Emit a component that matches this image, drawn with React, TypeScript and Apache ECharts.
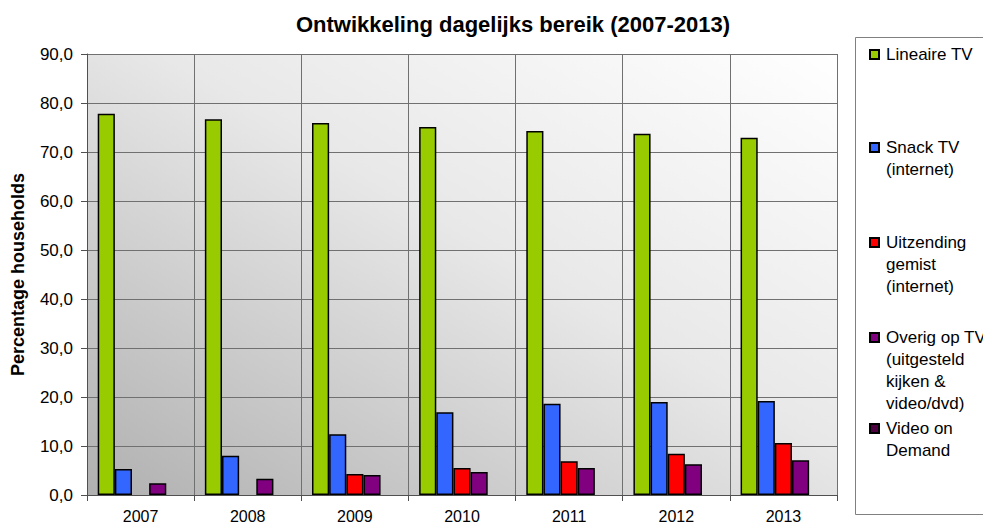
import React, { useEffect, useRef } from "react";
import * as echarts from "echarts";

const years = ["2007", "2008", "2009", "2010", "2011", "2012", "2013"];
const lineaireTV = [77.8, 76.7, 75.9, 75.1, 74.3, 73.7, 72.9];
const snackTV = [5.3, 8.0, 12.4, 16.9, 18.6, 19.0, 19.2];
const uitzendingGemist = [null, null, 4.3, 5.5, 6.9, 8.4, 10.6];
const overigOpTV = [2.4, 3.3, 4.1, 4.7, 5.5, 6.3, 7.1];
const videoOnDemand = [null, null, null, null, null, null, null];

const seriesNames = [
  "Lineaire TV",
  "Snack TV",
  "Uitzending",
  "Overig op TV",
  "Video on",
];
const extraLines = [
  [],
  ["(internet)"],
  ["gemist", "(internet)"],
  ["(uitgesteld", "kijken &", "video/dvd)"],
  ["Demand"],
];
const colors = ["#99cc00", "#3366ff", "#ff0000", "#800080", "#4d0040"];

export default function App() {
  const ref = useRef<HTMLDivElement>(null);
  useEffect(() => {
    if (!ref.current) return;
    document.body.style.margin = "0";
    const chart = echarts.init(ref.current, null, { renderer: "svg" });
    const font = "'Liberation Sans', Arial, sans-serif";
    const dataSets = [lineaireTV, snackTV, uitzendingGemist, overigOpTV, videoOnDemand];
    const legendCenters = [54, 147, 242, 337, 428];
    const lineH = 22;

    const graphics: any[] = [
      {
        type: "rect",
        shape: { x: 855.5, y: 37.5, width: 140, height: 477 },
        style: { fill: "#fff", stroke: "#808080", lineWidth: 1 },
        z: -1,
      },
    ];
    extraLines.forEach((lines, i) => {
      lines.forEach((t, j) => {
        graphics.push({
          type: "text",
          x: 886,
          y: legendCenters[i] + (j + 1) * lineH,
          style: {
            text: t,
            font: `17px ${font}`,
            fill: "#000",
            verticalAlign: "middle",
            align: "left",
          },
        });
      });
    });

    const option: any = {
      animation: false,
      backgroundColor: "#fff",
      textStyle: { fontFamily: font },
      title: {
        text: "Ontwikkeling dagelijks bereik (2007-2013)",
        left: 508,
        textAlign: "center",
        top: 8,
        textStyle: { fontSize: 22, fontWeight: "bold", color: "#000", fontFamily: font },
      },
      legend: seriesNames.map((n, i) => ({
        data: [n],
        orient: "vertical",
        left: 869,
        top: legendCenters[i] - 8,
        padding: 0,
        icon: "rect",
        itemWidth: 9,
        itemHeight: 9,
        itemGap: 0,
        textStyle: { fontSize: 17, color: "#000", fontFamily: font, padding: [0, 0, 0, 2] },
      })),
      graphic: graphics,
      grid: {
        left: 87,
        right: 146,
        top: 54,
        bottom: 33,
        show: true,
        borderWidth: 0,
        backgroundColor: {
          type: "linear",
          x: 0,
          y: 1,
          x2: 1,
          y2: 0,
          colorStops: [
            { offset: 0, color: "#b0b0b0" },
            { offset: 0.55, color: "#e8e8e8" },
            { offset: 1, color: "#ffffff" },
          ],
        },
      },
      xAxis: {
        type: "category",
        data: years,
        boundaryGap: true,
        axisLine: { show: true, lineStyle: { color: "#505050", width: 1 } },
        axisTick: { show: true, length: 6, lineStyle: { color: "#505050" } },
        splitLine: { show: true, lineStyle: { color: "#707070", width: 1 } },
        axisLabel: { color: "#000", fontSize: 16, margin: 13, fontFamily: font },
      },
      yAxis: {
        type: "value",
        min: 0,
        max: 90,
        interval: 10,
        name: "Percentage households",
        nameLocation: "middle",
        nameGap: 60,
        nameTextStyle: { fontSize: 18, fontWeight: "bold", color: "#000", fontFamily: font },
        axisLine: { show: true, lineStyle: { color: "#505050", width: 1 } },
        axisTick: { show: true, length: 6, lineStyle: { color: "#505050" } },
        splitLine: { show: true, lineStyle: { color: "#707070", width: 1 } },
        axisLabel: {
          color: "#000",
          fontSize: 17,
          margin: 14,
          fontFamily: font,
          formatter: (v: number) => v.toFixed(1).replace(".", ","),
        },
      },
      series: seriesNames.map((n, i) => ({
        name: n,
        type: "bar",
        data: dataSets[i],
        barGap: "0%",
        barCategoryGap: "20%",
        itemStyle: { color: colors[i], borderColor: "#000", borderWidth: 1.5 },
      })),
    };
    chart.setOption(option);
    return () => chart.dispose();
  }, []);
  return <div ref={ref} style={{ width: 983, height: 528 }} />;
}
